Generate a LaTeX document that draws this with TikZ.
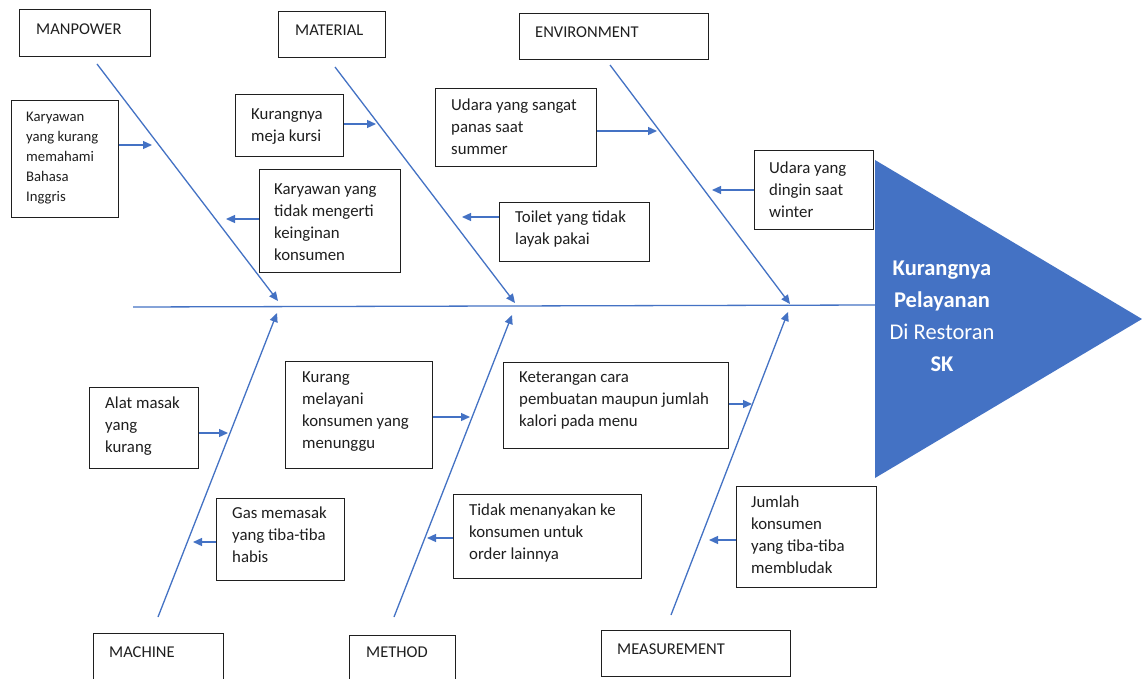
\documentclass[tikz,border=0pt]{standalone}
\usepackage{fontspec}
\setmainfont{Carlito}
\usetikzlibrary{arrows.meta}
\definecolor{bone}{HTML}{4472C4}
\definecolor{ink}{HTML}{1F1F1F}
\begin{document}
\begin{tikzpicture}[x=1pt,y=-1pt,
  box/.style={draw=ink, line width=1.2pt, rectangle, inner sep=0pt, anchor=north west},
  txt/.style={anchor=north west, inner sep=0pt, align=left, text=ink, font=\fontsize{16.8}{22}\selectfont},
  smalltxt/.style={txt, font=\fontsize{14.7}{20}\selectfont},
  cat/.style={anchor=west, inner sep=0pt, text=ink, font=\fontsize{16.5}{20}\selectfont},
  bonel/.style={draw=bone, line width=1.3pt},
  arr/.style={bonel, -{Triangle[length=9pt,width=8pt]}},
  effecttxt/.style={anchor=north, align=center, inner sep=0pt, text=white, font=\fontsize{22.5}{32}\selectfont}
]
\useasboundingbox (0,0) rectangle (1142,679);
\fill[white] (0,0) rectangle (1142,679);
\clip (0,0) rectangle (1142,679);

% effect head
\fill[bone] (875,160) -- (1142,319) -- (875,478) -- cycle;
\node[effecttxt] (effect) at (942,261) {\textbf{Kurangnya}\\\textbf{Pelayanan}\\Di Restoran\\\textbf{SK}};

% spine
\coordinate (tail) at (133,307);
\coordinate (head) at (875,305);
\draw[bonel] (tail) -- (head);

% category boxes
\node[box, minimum width=131pt, minimum height=47pt] (manpower) at (19,9) {};
\node[cat] at (36,29) {MANPOWER};
\node[box, minimum width=107pt, minimum height=46pt] (material) at (278,11) {};
\node[cat] at (295,30) {MATERIAL};
\node[box, minimum width=189pt, minimum height=46pt] (environment) at (519,13) {};
\node[cat] at (535,32) {ENVIRONMENT};
\node[box, minimum width=130pt, minimum height=60pt] (machine) at (93,633) {};
\node[cat] at (109,652) {MACHINE};
\node[box, minimum width=106pt, minimum height=60pt] (method) at (349,635) {};
\node[cat] at (366,652) {METHOD};
\node[box, minimum width=189pt, minimum height=46pt] (measurement) at (601,630) {};
\node[cat] at (617,649) {MEASUREMENT};

% bones
\coordinate (mp0) at (97,64);   \coordinate (mp1) at (278,301);
\coordinate (ma0) at (335,67);  \coordinate (ma1) at (515,303);
\coordinate (en0) at (610,65);  \coordinate (en1) at (790,304);
\coordinate (mc0) at (158,617); \coordinate (mc1) at (277,313);
\coordinate (me0) at (394,617); \coordinate (me1) at (512,315);
\coordinate (ms0) at (671,615); \coordinate (ms1) at (788,312);
\draw[arr] (mp0) -- (mp1);
\draw[arr] (ma0) -- (ma1);
\draw[arr] (en0) -- (en1);
\draw[arr] (mc0) -- (mc1);
\draw[arr] (me0) -- (me1);
\draw[arr] (ms0) -- (ms1);

% cause boxes
\node[box, minimum width=107pt, minimum height=117pt] (kk) at (11,100) {};
\node[smalltxt] at (26,112) {Karyawan\\yang kurang\\memahami\\Bahasa\\Inggris};
\node[box, minimum width=108pt, minimum height=62pt] (kmk) at (235,94) {};
\node[txt] at (251,108.5) {Kurangnya\\meja kursi};
\node[box, minimum width=141pt, minimum height=103pt] (kym) at (259,169) {};
\node[txt] at (274,184) {Karyawan yang\\tidak mengerti\\keinginan\\konsumen};
\node[box, minimum width=161pt, minimum height=78pt] (udp) at (435,88) {};
\node[txt] at (451,99) {Udara yang sangat\\panas saat\\summer};
\node[box, minimum width=150pt, minimum height=59pt] (toilet) at (499,202) {};
\node[txt] at (515,211) {Toilet yang tidak\\layak pakai};
\node[box, minimum width=119pt, minimum height=79pt] (udw) at (754,150) {};
\node[txt] at (769,162) {Udara yang\\dingin saat\\winter};
\node[box, minimum width=109pt, minimum height=81pt] (alat) at (89,387) {};
\node[txt] at (105,397) {Alat masak\\yang\\kurang};
\node[box, minimum width=128pt, minimum height=82pt] (gas) at (216,498) {};
\node[txt] at (232,507) {Gas memasak\\yang tiba-tiba\\habis};
\node[box, minimum width=147pt, minimum height=107pt] (kml) at (285,361) {};
\node[txt] at (302,372) {Kurang\\melayani\\konsumen yang\\menunggu};
\node[box, minimum width=225pt, minimum height=86pt] (ket) at (503,362) {};
\node[txt] at (519,372) {Keterangan cara\\pembuatan maupun jumlah\\kalori pada menu};
\node[box, minimum width=188pt, minimum height=84pt] (tid) at (453,494) {};
\node[txt] at (469,504) {Tidak menanyakan ke\\konsumen untuk\\order lainnya};
\node[box, minimum width=140pt, minimum height=101pt] (jum) at (736,486) {};
\node[txt] at (751,496) {Jumlah\\konsumen\\yang tiba-tiba\\membludak};

% cause arrows
\coordinate (t1) at (152,145);  \draw[arr] (kk.east |- t1) -- (t1);
\coordinate (t2) at (226,219);  \draw[arr] (kym.west |- t2) -- (t2);
\coordinate (t3) at (376,124);  \draw[arr] (kmk.east |- t3) -- (t3);
\coordinate (t4) at (657,131);  \draw[arr] (udp.east |- t4) -- (t4);
\coordinate (t5) at (712,190);  \draw[arr] (udw.west |- t5) -- (t5);
\coordinate (t6) at (462,217);  \draw[arr] (toilet.west |- t6) -- (t6);
\coordinate (t7) at (228,433);  \draw[arr] (alat.east |- t7) -- (t7);
\coordinate (t8) at (193,542);  \draw[arr] (gas.west |- t8) -- (t8);
\coordinate (t9) at (470,417);  \draw[arr] (kml.east |- t9) -- (t9);
\coordinate (t10) at (752,404); \draw[arr] (ket.east |- t10) -- (t10);
\coordinate (t11) at (427,538); \draw[arr] (tid.west |- t11) -- (t11);
\coordinate (t12) at (709,540); \draw[arr] (jum.west |- t12) -- (t12);
\end{tikzpicture}
\end{document}
